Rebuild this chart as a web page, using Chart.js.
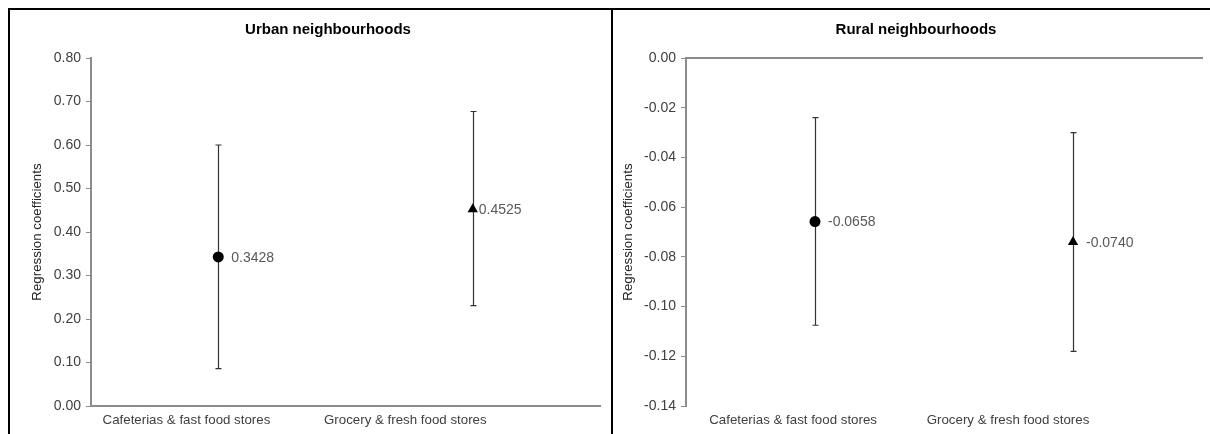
<!DOCTYPE html>
<html>
<head>
<meta charset="utf-8">
<script src="https://cdn.jsdelivr.net/npm/chart.js@4/dist/chart.umd.min.js"></script>
<style>
  body { margin: 0; background: #fff; width: 1210px; height: 434px; overflow: hidden; position: relative; }
  .panel { position: absolute; top: 8px; height: 426px; border-top: 2px solid #000; border-left: 2px solid #000; }
  #p1 { left: 8px; width: 602px; }
  #p2 { left: 611px; width: 597px; }
</style>
</head>
<body>
<div class="panel" id="p1"><canvas id="urban" width="602" height="424"></canvas></div>
<div class="panel" id="p2"><canvas id="rural" width="597" height="424"></canvas></div>
<script>
var categories = ['Cafeterias & fast food stores', 'Grocery & fresh food stores'];
var markers = ['circle', 'triangle'];

var urbanTitle = 'Urban neighbourhoods';
var urbanCoef = [0.3428, 0.4525];
var urbanLower = [0.086, 0.231];
var urbanUpper = [0.600, 0.677];

var ruralTitle = 'Rural neighbourhoods';
var ruralCoef = [-0.0658, -0.0740];
var ruralLower = [-0.1075, -0.118];
var ruralUpper = [-0.024, -0.030];

var fontStack = 'Arial, "Liberation Sans", sans-serif';
Chart.defaults.font.family = fontStack;
Chart.defaults.font.size = 14;
Chart.defaults.color = '#404040';

var axisGrey = '#8c8c8c';

// vertical error bars drawn through the chart's own scales
var errorBars = {
  id: 'errorBars',
  beforeDatasetsDraw: function(chart, args, opts) {
    var ctx = chart.ctx, xs = chart.scales.x, ys = chart.scales.y;
    ctx.save();
    ctx.strokeStyle = '#333';
    ctx.lineWidth = 1.2;
    opts.lower.forEach(function(lo, i) {
      var px = Math.round(xs.getPixelForValue(i)) + 0.5;
      var y1 = ys.getPixelForValue(lo), y2 = ys.getPixelForValue(opts.upper[i]);
      ctx.beginPath();
      ctx.moveTo(px, y1); ctx.lineTo(px, y2);
      ctx.moveTo(px - 3, y1); ctx.lineTo(px + 3, y1);
      ctx.moveTo(px - 3, y2); ctx.lineTo(px + 3, y2);
      ctx.stroke();
    });
    ctx.restore();
  }
};

// value labels to the right of each marker
var valueLabels = {
  id: 'valueLabels',
  afterDatasetsDraw: function(chart, args, opts) {
    var ctx = chart.ctx;
    var meta = chart.getDatasetMeta(0);
    ctx.save();
    ctx.font = '14px ' + fontStack;
    ctx.fillStyle = '#595959';
    ctx.textBaseline = 'middle';
    meta.data.forEach(function(pt, i) {
      var v = chart.data.datasets[0].data[i].y;
      ctx.fillText(v.toFixed(4), pt.x + opts.offset[i], pt.y + 1);
    });
    ctx.restore();
  }
};

// panel title, centred where the original puts it
var panelTitle = {
  id: 'panelTitle',
  afterDraw: function(chart, args, opts) {
    var ctx = chart.ctx;
    ctx.save();
    ctx.font = 'bold 15px ' + fontStack;
    ctx.fillStyle = '#000';
    ctx.textAlign = 'center';
    ctx.textBaseline = 'middle';
    ctx.fillText(opts.text, opts.x, 20);
    ctx.restore();
  }
};

function makeChart(id, title, titleX, coef, lower, upper, yMin, yMax, step, labelAt, yWidth, yTitlePad, padRight, labelOffset, zeroOnTop) {
  var scales = {
    x: {
      type: 'linear', min: -0.5, max: 1.5,
      afterBuildTicks: function(scale) {
        scale.ticks = labelAt.map(function(v) { return { value: v }; });
      },
      ticks: {
        padding: 6, maxRotation: 0, autoSkip: false, color: '#404040',
        font: { size: 13.3 },
        callback: function(v, i) { return categories[i]; }
      },
      grid: { display: false, drawTicks: false },
      border: { display: !zeroOnTop, color: axisGrey, width: 2 }
    },
    y: {
      min: yMin, max: yMax,
      afterFit: function(scale) { scale.width = yWidth; },
      ticks: { stepSize: step, padding: 5, color: '#404040',
        callback: function(v) { return Number(v).toFixed(2); } },
      grid: { drawOnChartArea: false, tickLength: 5, color: axisGrey, tickWidth: 1 },
      border: { color: axisGrey, width: 2 },
      title: { display: true, text: 'Regression coefficients', color: '#262626',
        font: { size: 13.3 }, padding: { top: yTitlePad, bottom: 0 } }
    }
  };
  if (zeroOnTop) {
    scales.x2 = {
      type: 'linear', position: 'top', min: -0.5, max: 1.5,
      ticks: { display: false },
      grid: { display: false, drawTicks: false },
      border: { display: true, color: axisGrey, width: 2 }
    };
  }
  return new Chart(document.getElementById(id), {
    type: 'scatter',
    data: {
      datasets: [{
        data: coef.map(function(c, i) { return { x: i, y: c }; }),
        pointStyle: markers,
        pointRadius: [5.5, 6],
        backgroundColor: '#000',
        borderColor: '#000',
        borderWidth: 0
      }]
    },
    options: {
      responsive: false,
      animation: false,
      layout: { padding: { top: 48, left: 0, right: padRight, bottom: 0 } },
      plugins: {
        legend: { display: false },
        tooltip: { enabled: false },
        title: { display: false },
        panelTitle: { text: title, x: titleX },
        errorBars: { lower: lower, upper: upper },
        valueLabels: { offset: labelOffset }
      },
      scales: scales
    },
    plugins: [errorBars, valueLabels, panelTitle]
  });
}

makeChart('urban', urbanTitle, 318, urbanCoef, urbanLower, urbanUpper,
  0, 0.8, 0.1, [-0.125, 0.735], 81, 19, 12, [13, 6], false);
makeChart('rural', ruralTitle, 303, ruralCoef, ruralLower, ruralUpper,
  -0.14, 0, 0.02, [-0.085, 0.748], 73, 7, 8, [13, 13], true);
</script>
</body>
</html>
